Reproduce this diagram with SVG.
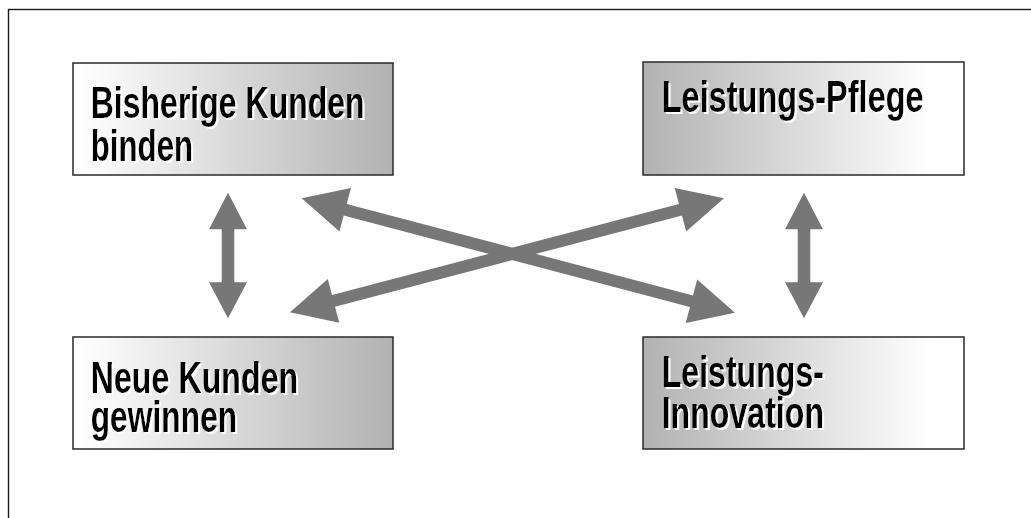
<svg xmlns="http://www.w3.org/2000/svg" width="1031" height="518" viewBox="0 0 1031 518">
<defs>
<linearGradient id="gL" x1="0" y1="0" x2="1" y2="0">
<stop offset="0" stop-color="#ffffff"/><stop offset="0.08" stop-color="#fafafa"/><stop offset="1" stop-color="#b2b2b2"/>
</linearGradient>
<linearGradient id="gR" x1="0" y1="0" x2="1" y2="0">
<stop offset="0" stop-color="#b2b2b2"/><stop offset="0.9" stop-color="#ffffff"/><stop offset="1" stop-color="#ffffff"/>
</linearGradient>
<filter id="sh" x="-5%" y="-20%" width="110%" height="150%">
<feFlood flood-color="#ffffff"/>
<feComposite in2="SourceAlpha" operator="in"/>
<feOffset dx="2" dy="2" result="s"/>
<feMerge><feMergeNode in="s"/><feMergeNode in="SourceGraphic"/></feMerge>
</filter>
<style>
.box{stroke:#2a2a2a;stroke-width:1.5}
.t{font-family:"Liberation Sans",Arial,sans-serif;font-weight:bold;font-size:45px;fill:#000}
.arr{fill:#777777}
</style>
</defs>
<rect x="8.5" y="9.5" width="1040" height="520" fill="#ffffff" stroke="#1a1a1a" stroke-width="1.4"/>
<g id="connectors">
<polygon class="arr" points="228,192.7 247,229.3 234.3,229.3 234.3,282.3 247,282.3 228,318.3 209,282.3 221.7,282.3 221.7,229.3 209,229.3"/>
<polygon class="arr" points="804,192.7 823,229.3 810.3,229.3 810.3,282.3 823,282.3 804,318.3 785,282.3 797.7,282.3 797.7,229.3 785,229.3"/>
<polygon class="arr" transform="translate(301.7,198.3) rotate(14.79)" points="0,0 45,-22.5 45,-6 403.1,-6 403.1,-22.5 448.1,0 403.1,22.5 403.1,6 45,6 45,22.5"/>
<polygon class="arr" transform="translate(290,312.3) rotate(-14.72)" points="0,0 45,-22.5 45,-6 403.7,-6 403.7,-22.5 448.7,0 403.7,22.5 403.7,6 45,6 45,22.5"/>
</g>
<g id="node-bisherige">
<rect class="box" x="73" y="63" width="320" height="112" fill="url(#gL)"/>
<text class="t" filter="url(#sh)"><tspan x="90.7" y="118" textLength="274" lengthAdjust="spacingAndGlyphs">Bisherige Kunden</tspan><tspan x="90.7" y="161" textLength="102.5" lengthAdjust="spacingAndGlyphs">binden</tspan></text>
</g>
<g id="node-pflege">
<rect class="box" x="643" y="62" width="321" height="113" fill="url(#gR)"/>
<text class="t" filter="url(#sh)"><tspan x="661.7" y="112" textLength="262" lengthAdjust="spacingAndGlyphs">Leistungs-Pflege</tspan></text>
</g>
<g id="node-neue">
<rect class="box" x="73" y="337" width="320" height="112" fill="url(#gL)"/>
<text class="t" filter="url(#sh)"><tspan x="90.7" y="393" textLength="207.6" lengthAdjust="spacingAndGlyphs">Neue Kunden</tspan><tspan x="90.7" y="432" textLength="146.6" lengthAdjust="spacingAndGlyphs">gewinnen</tspan></text>
</g>
<g id="node-innovation">
<rect class="box" x="643" y="337" width="321" height="112" fill="url(#gR)"/>
<text class="t" filter="url(#sh)"><tspan x="661.7" y="387" textLength="162.3" lengthAdjust="spacingAndGlyphs">Leistungs-</tspan><tspan x="661.7" y="428" textLength="162.3" lengthAdjust="spacingAndGlyphs">Innovation</tspan></text>
</g>
</svg>
